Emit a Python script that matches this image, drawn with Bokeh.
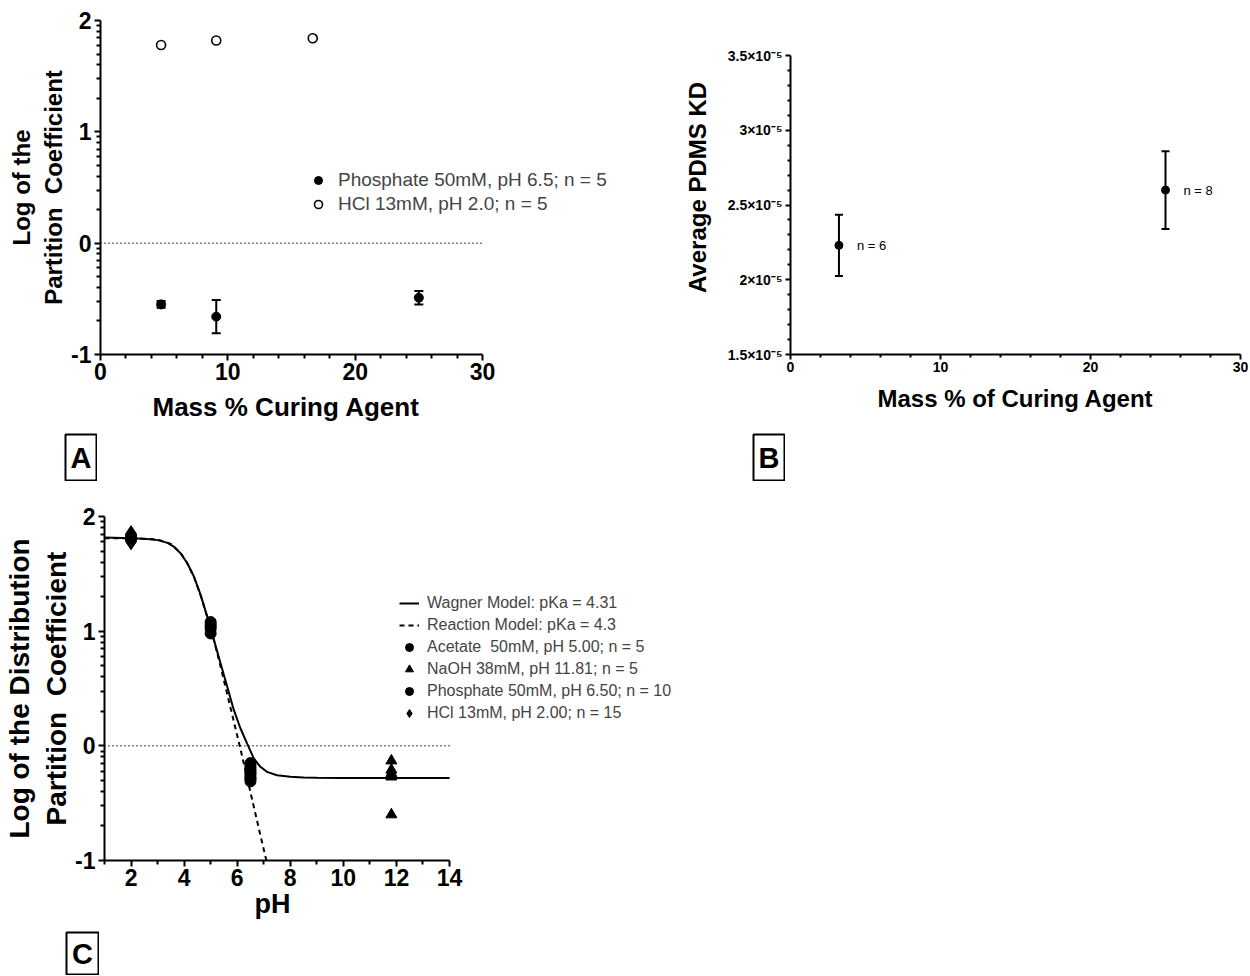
import numpy as np
from bokeh.plotting import figure
from bokeh.models import (Range1d, FixedTicker, Whisker, ColumnDataSource, Legend,
                          LegendItem, Label, CustomJSTickFormatter, TeeHead, Spacer, Title)
from bokeh.layouts import row, column
from bokeh.core.properties import value
from bokeh.embed import file_html
from bokeh.resources import INLINE

FONT = "Liberation Sans"

# ---------------- Panel A data ----------------
a_phos_mass = [4.76, 9.09, 25.0]
a_phos_logk = [-0.55, -0.66, -0.49]
a_phos_err = [0.03, 0.15, 0.06]
a_hcl_mass = [4.76, 9.09, 16.67]
a_hcl_logk = [1.78, 1.82, 1.84]
a_x_ticks = [0, 10, 20, 30]
a_y_ticks = [-1, 0, 1, 2]
a_legend = ["Phosphate 50mM, pH 6.5; n = 5", "HCl 13mM, pH 2.0; n = 5"]

# ---------------- Panel B data ----------------
b_mass = [3.23, 25.0]
b_kd = [2.23e-5, 2.60e-5]
b_kd_err = [0.205e-5, 0.26e-5]
b_n_labels = ["n = 6", "n = 8"]
b_x_ticks = [0, 10, 20, 30]
b_y_ticks = [1.5e-5, 2.0e-5, 2.5e-5, 3.0e-5, 3.5e-5]

# ---------------- Panel C data ----------------
c_wagner_ph = [1.0, 2.0, 2.5, 3.0, 3.375, 3.625, 3.875, 4.125, 4.375, 4.625, 4.875, 5.125,
               5.375, 5.625, 5.875, 6.125, 6.375, 6.625, 6.875, 7.125, 7.5, 8.0, 8.5, 9.0,
               10.0, 12.0, 14.0]
c_wagner_logd = [1.817, 1.811, 1.805, 1.794, 1.770, 1.735, 1.677, 1.590, 1.474, 1.314, 1.125,
                 0.922, 0.718, 0.515, 0.311, 0.151, 0.020, -0.110, -0.183, -0.227, -0.256,
                 -0.270, -0.277, -0.279, -0.280, -0.280, -0.280]
c_rxn_ph = [1.0, 2.0, 3.0, 3.5, 3.875, 4.125, 4.375, 4.625, 4.875, 5.125, 5.375, 5.625,
            5.875, 6.125, 6.375, 6.625, 6.875, 7.1]
c_rxn_logd = [1.81, 1.81, 1.80, 1.76, 1.68, 1.59, 1.47, 1.31, 1.12, 0.92, 0.69, 0.45,
              0.21, -0.03, -0.28, -0.53, -0.78, -1.0]
c_acetate_ph = [5.0, 5.0, 5.0, 5.0, 5.0]
c_acetate_logd = [1.08, 1.06, 1.04, 1.02, 0.98]
c_naoh_ph = [11.81, 11.81, 11.81, 11.81, 11.81]
c_naoh_logd = [-0.13, -0.21, -0.24, -0.27, -0.60]
c_phos_ph = [6.5, 6.5, 6.5, 6.5, 6.5, 6.5, 6.5, 6.5, 6.5, 6.5]
c_phos_logd = [-0.15, -0.17, -0.19, -0.21, -0.23, -0.24, -0.26, -0.28, -0.29, -0.31]
c_hcl_ph = [2.0, 2.0, 2.0, 2.0, 2.0, 2.0, 2.0, 2.0, 2.0, 2.0, 2.0, 2.0, 2.0, 2.0, 2.0]
c_hcl_logd = [1.78, 1.79, 1.79, 1.80, 1.80, 1.81, 1.81, 1.81, 1.82, 1.82, 1.83, 1.83,
              1.84, 1.84, 1.85]
c_x_ticks = [2, 4, 6, 8, 10, 12, 14]
c_x_minor = [1, 3, 5, 7, 9, 11, 13]
c_y_ticks = [-1, 0, 1, 2]
c_legend = ["Wagner Model: pKa = 4.31", "Reaction Model: pKa = 4.3",
            "Acetate  50mM, pH 5.00; n = 5", "NaOH 38mM, pH 11.81; n = 5",
            "Phosphate 50mM, pH 6.50; n = 10", "HCl 13mM, pH 2.00; n = 15"]

# log-style minor ticks used on the log(K) axes
log_minor = [b + np.log10(k) for b in (-1, 0, 1) for k in range(2, 10)]
hyphen_labels = {-1: "-1", 0: "0", 1: "1", 2: "2"}
NB = "\u00a0"


def style(p, tick_px, xlab_px, ylab_px, lw, tick_out=6, minor_out=4):
    p.xgrid.visible = False
    p.ygrid.visible = False
    p.outline_line_color = None
    for ax, lab_px in ((p.xaxis[0], xlab_px), (p.yaxis[0], ylab_px)):
        ax.axis_line_width = lw
        ax.axis_line_color = "black"
        ax.major_tick_line_width = lw
        ax.minor_tick_line_width = lw
        ax.major_tick_in = 0
        ax.major_tick_out = tick_out
        ax.minor_tick_in = 0
        ax.minor_tick_out = minor_out
        ax.major_label_text_font = FONT
        ax.major_label_text_font_style = "bold"
        ax.major_label_text_font_size = tick_px
        ax.major_label_text_color = "black"
        ax.axis_label_text_font = FONT
        ax.axis_label_text_font_style = "bold"
        ax.axis_label_text_font_size = lab_px
        ax.axis_label_text_color = "black"


def below_title(p, txt, px, offset, standoff):
    p.add_layout(Title(text=txt, align="left", vertical_align="top", offset=offset,
                       standoff=standoff, text_font=FONT, text_font_style="bold",
                       text_font_size=px, text_color="black"), "below")


def letter_fig(txt, w, h):
    f = figure(frame_width=w - 2, frame_height=h - 2, min_border=1, x_range=Range1d(0, 1),
               y_range=Range1d(0, 1), x_axis_type=None, y_axis_type=None,
               output_backend="svg", toolbar_location=None)
    f.xgrid.visible = False
    f.ygrid.visible = False
    f.outline_line_color = "black"
    f.outline_line_width = 2
    f.add_layout(Label(x=0.5, y=0.5, text=txt, text_font=FONT, text_font_style="bold",
                       text_font_size="29px", text_align="center", text_baseline="middle",
                       text_color="black"))
    return f


# ================= Panel A =================
A_FW = 520  # frame extends right so the legend is not clipped; axis is bounded to 0..30
pA = figure(frame_width=A_FW, frame_height=334, x_range=Range1d(0, 30 * A_FW / 382),
            y_range=Range1d(-1, 2), output_backend="svg", toolbar_location=None,
            min_border_left=100, min_border_top=20, min_border_right=0, min_border_bottom=79)
style(pA, "23px", "26px", "24px", 2)
pA.xaxis.bounds = (a_x_ticks[0], a_x_ticks[-1])
pA.xaxis.ticker = FixedTicker(ticks=a_x_ticks, minor_ticks=[v for v in range(0, 31, 2) if v % 10])
pA.yaxis.ticker = FixedTicker(ticks=a_y_ticks, minor_ticks=log_minor)
pA.yaxis.major_label_overrides = hyphen_labels
pA.yaxis.axis_label = "Log of the\nPartition" + NB + NB + "Coefficient"
pA.xaxis.major_label_standoff = 2
pA.yaxis.major_label_standoff = 3
pA.yaxis.axis_label_standoff = 1
below_title(pA, "Mass % Curing Agent", "26px", 52, 19)
pA.line([a_x_ticks[0], a_x_ticks[-1]], [0, 0], line_color="black", line_width=1.5,
        line_dash="1 3")
srcA = ColumnDataSource(dict(x=a_phos_mass, y=a_phos_logk,
                             up=[m + e for m, e in zip(a_phos_logk, a_phos_err)],
                             lo=[m - e for m, e in zip(a_phos_logk, a_phos_err)]))
pA.add_layout(Whisker(base="x", upper="up", lower="lo", source=srcA, dimension="height",
                      line_width=2, line_color="black",
                      upper_head=TeeHead(size=9, line_width=2, line_color="black"),
                      lower_head=TeeHead(size=9, line_width=2, line_color="black")))
rA1 = pA.scatter("x", "y", source=srcA, marker="circle", size=9, fill_color="black",
                 line_color="black")
rA2 = pA.scatter(a_hcl_mass, a_hcl_logk, marker="circle", size=9, fill_color="white",
                 line_color="black", line_width=1.6)
legA = Legend(items=[LegendItem(label=a_legend[0], renderers=[rA1]),
                     LegendItem(label=a_legend[1], renderers=[rA2])],
              location=(208, 138), padding=0, margin=0, border_line_color=None,
              background_fill_alpha=0, label_text_font=FONT, label_text_font_size="19px",
              glyph_width=20, glyph_height=24, label_height=24, label_standoff=10, spacing=0)
pA.add_layout(legA)

# ================= Panel B =================
B_TOP_PAD = 35  # pixels between frame top and the 3.5e-5 end of the axis
b_span = b_y_ticks[-1] - b_y_ticks[0]
pB = figure(frame_width=450, frame_height=334, x_range=Range1d(0, 30),
            y_range=Range1d(b_y_ticks[0], b_y_ticks[-1] + B_TOP_PAD * b_span / 299),
            output_backend="svg", toolbar_location=None,
            min_border_left=170, min_border_top=20, min_border_right=10, min_border_bottom=79)
style(pB, "14px", "24px", "24px", 2, tick_out=5, minor_out=3)
pB.yaxis.bounds = (b_y_ticks[0], b_y_ticks[-1])
pB.xaxis.ticker = FixedTicker(ticks=b_x_ticks, minor_ticks=[v for v in range(0, 31, 2) if v % 10])
pB.yaxis.ticker = FixedTicker(ticks=b_y_ticks,
                              minor_ticks=[k * 1e-6 for k in range(15, 36) if k % 5])
pB.yaxis.formatter = CustomJSTickFormatter(
    code="const m = Math.round(tick * 1e6) / 10; return m.toString() + '\u00d710\u207b\u2075';")
pB.xaxis.axis_label = "Mass % of Curing Agent"
pB.yaxis.axis_label = "Average PDMS KD"
pB.xaxis.major_label_standoff = 2
pB.yaxis.major_label_standoff = 3
pB.xaxis.axis_label_standoff = 10
pB.yaxis.axis_label_standoff = 14
srcB = ColumnDataSource(dict(x=b_mass, y=b_kd, txt=b_n_labels,
                             up=[m + e for m, e in zip(b_kd, b_kd_err)],
                             lo=[m - e for m, e in zip(b_kd, b_kd_err)]))
pB.add_layout(Whisker(base="x", upper="up", lower="lo", source=srcB, dimension="height",
                      line_width=2, line_color="black",
                      upper_head=TeeHead(size=8, line_width=2, line_color="black"),
                      lower_head=TeeHead(size=8, line_width=2, line_color="black")))
pB.scatter("x", "y", source=srcB, marker="circle", size=8, fill_color="black", line_color="black")
pB.text("x", "y", text="txt", source=srcB, x_offset=18, text_baseline="middle",
        text_font=value(FONT), text_font_size="13px", text_color="black")

# ================= Panel C =================
C_FW = 600
pC = figure(frame_width=C_FW, frame_height=344, x_range=Range1d(1, 1 + 13 * C_FW / 345),
            y_range=Range1d(-1, 2), output_backend="svg", toolbar_location=None,
            min_border_left=100, min_border_top=35, min_border_right=0, min_border_bottom=71)
style(pC, "23px", "27px", "28px", 2)
pC.xaxis.bounds = (1, c_x_ticks[-1])
pC.xaxis.ticker = FixedTicker(ticks=c_x_ticks, minor_ticks=c_x_minor)
pC.yaxis.ticker = FixedTicker(ticks=c_y_ticks, minor_ticks=log_minor)
pC.yaxis.major_label_overrides = hyphen_labels
pC.yaxis.axis_label = "Log of the Distribution\nPartition" + NB + NB + "Coefficient"
pC.xaxis.major_label_standoff = 2
pC.yaxis.major_label_standoff = 3
pC.yaxis.axis_label_standoff = 0
below_title(pC, "pH", "27px", 150, 0)
pC.line([1, c_x_ticks[-1]], [0, 0], line_color="black", line_width=1.5, line_dash="1 3")
rW = pC.line(c_wagner_ph, c_wagner_logd, line_color="black", line_width=2)
rR = pC.line(c_rxn_ph, c_rxn_logd, line_color="black", line_width=2, line_dash="5 4")
rAc = pC.scatter(c_acetate_ph, c_acetate_logd, marker="circle", size=11, color="black")
rNa = pC.scatter(c_naoh_ph, c_naoh_logd, marker="triangle", size=11, color="black")
rPh = pC.scatter(c_phos_ph, c_phos_logd, marker="circle", size=11, color="black")
rHc = pC.scatter(c_hcl_ph, c_hcl_logd, marker="diamond", size=16, color="black")
legC = Legend(items=[LegendItem(label=lab, renderers=[r]) for lab, r in
                     zip(c_legend, [rW, rR, rAc, rNa, rPh, rHc])],
              location=(295, 136), padding=0, margin=0, border_line_color=None,
              background_fill_alpha=0, label_text_font=FONT, label_text_font_size="16px",
              glyph_width=20, glyph_height=22, label_height=22, label_standoff=8, spacing=0)
pC.add_layout(legC)

letters_ab = row(Spacer(width=64, height=48), letter_fig("A", 33, 48),
                 Spacer(width=655, height=48), letter_fig("B", 33, 48))
letters_c = row(Spacer(width=65, height=44), letter_fig("C", 34, 44))

layout = column(row(pA, pB), letters_ab, row(pC), letters_c)
open("out.html", "w").write(file_html(layout, INLINE))
